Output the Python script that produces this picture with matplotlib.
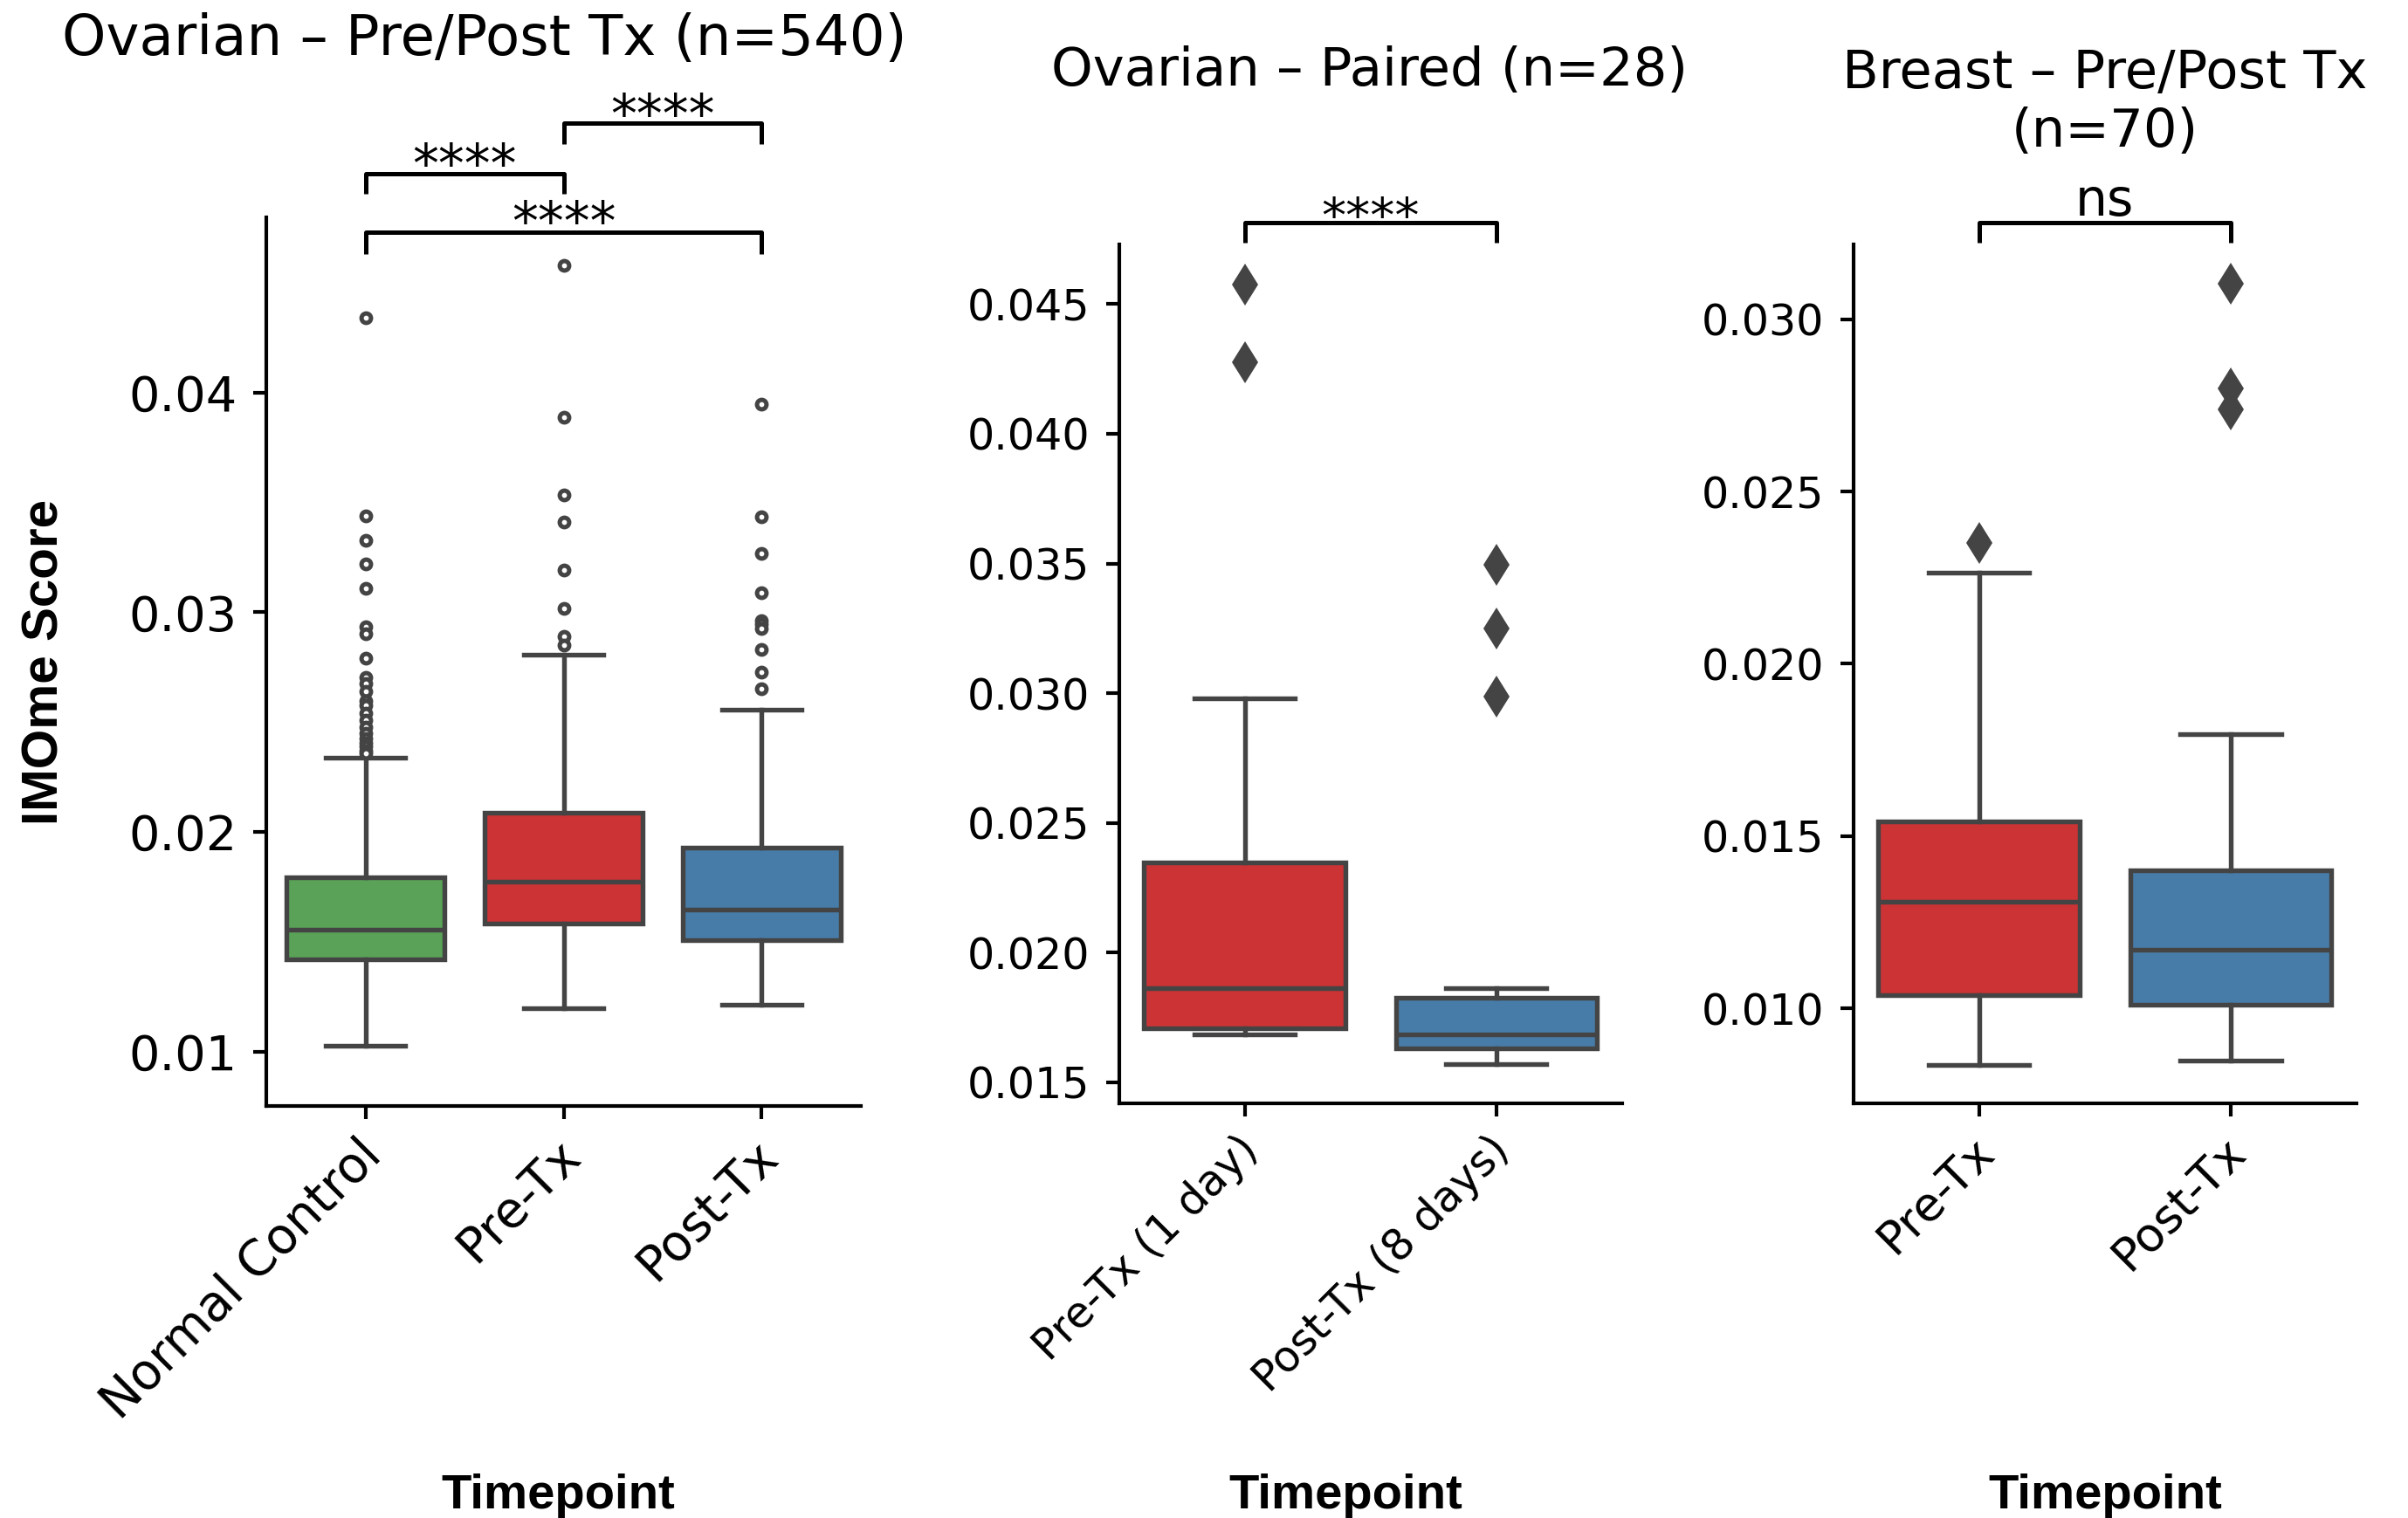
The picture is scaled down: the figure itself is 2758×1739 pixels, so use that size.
import matplotlib
matplotlib.use("Agg")
import matplotlib.pyplot as plt
from matplotlib.textpath import TextPath
from matplotlib.font_manager import FontProperties
from matplotlib.transforms import ScaledTranslation

W, H, DPI = 2758, 1739, 300
fig = plt.figure(figsize=(W / DPI, H / DPI), dpi=DPI)

# ---------------- data ----------------
# Ovarian pre/post treatment cohort
ov_groups = ["Normal Control", "Pre-Tx", "Post-Tx"]
ov_whislo = [0.01027, 0.01197, 0.01213]
ov_q1 = [0.01420, 0.01585, 0.01508]
ov_med = [0.01556, 0.01774, 0.01646]
ov_q3 = [0.01795, 0.02088, 0.01928]
ov_whishi = [0.02340, 0.02806, 0.02556]
ov_fliers_normal = [0.04340, 0.03439, 0.03327, 0.03221, 0.03109, 0.02936, 0.02902,
                    0.02790, 0.02705, 0.02676, 0.02640, 0.02596, 0.02577, 0.02540,
                    0.02511, 0.02479, 0.02450, 0.02426, 0.02404, 0.02390, 0.02372, 0.02359]
ov_fliers_pre = [0.04580, 0.03888, 0.03535, 0.03412, 0.03194, 0.03019, 0.02891, 0.02851]
ov_fliers_post = [0.03947, 0.03434, 0.03266, 0.03090, 0.02960, 0.02945, 0.02926,
                  0.02830, 0.02726, 0.02654]
ov_pairs = [(0, 1), (1, 2), (0, 2)]
ov_labels = ["****", "****", "****"]

# Ovarian paired cohort
pr_groups = ["Pre-Tx (1 day)", "Post-Tx (8 days)"]
pr_whislo = [0.01686, 0.01571]
pr_q1 = [0.01710, 0.01632]
pr_med = [0.01863, 0.01684]
pr_q3 = [0.02349, 0.01825]
pr_whishi = [0.02979, 0.01863]
pr_fliers_pre = [0.04575, 0.04274]
pr_fliers_post = [0.03495, 0.03248, 0.02988]
pr_label = "****"

# Breast pre/post treatment cohort
br_groups = ["Pre-Tx", "Post-Tx"]
br_whislo = [0.00836, 0.00849]
br_q1 = [0.01039, 0.01011]
br_med = [0.01309, 0.01169]
br_q3 = [0.01542, 0.01400]
br_whishi = [0.02264, 0.01795]
br_fliers_pre = [0.02351]
br_fliers_post = [0.03103, 0.02800, 0.02738]
br_label = "ns"

# ---------------- styling ----------------
GREEN, RED, BLUE = "#59A257", "#CB3335", "#477CA8"
LINE = "#444444"


def stats_from(groups, wlo, q1, med, q3, whi, fliers):
    return [dict(label=g, whislo=a, q1=b, med=c, q3=d, whishi=e, fliers=f)
            for g, a, b, c, d, e, f in zip(groups, wlo, q1, med, q3, whi, fliers)]


def draw_boxes(ax, stats, colors, flier_style):
    pos = list(range(len(stats)))
    art = ax.bxp(stats, positions=pos, widths=0.8, capwidths=0.4, patch_artist=True,
                 boxprops=dict(edgecolor=LINE, linewidth=1.3),
                 medianprops=dict(color=LINE, linewidth=1.3),
                 whiskerprops=dict(color=LINE, linewidth=1.3),
                 capprops=dict(color=LINE, linewidth=1.3),
                 flierprops=flier_style, manage_ticks=False)
    for patch, c in zip(art["boxes"], colors):
        patch.set_facecolor(c)
    return pos


def style_axes(ax, labels, ytick_size, xtick_size, ylim, yticks, fmt):
    ax.set_xlim(-0.5, len(labels) - 0.5)
    ax.set_ylim(*ylim)
    ax.set_yticks(yticks, [fmt.format(v) for v in yticks])
    ax.set_xticks(range(len(labels)), labels, rotation=45, ha="right",
                  va="top", rotation_mode="anchor")
    for s in ("top", "right"):
        ax.spines[s].set_visible(False)
    for s in ("left", "bottom"):
        ax.spines[s].set_linewidth(1.0)
    ax.tick_params(axis="both", length=3.5, width=1.0, colors="black")
    ax.tick_params(axis="y", labelsize=ytick_size, pad=4.5)
    ax.tick_params(axis="x", labelsize=xtick_size, pad=3.5)
    # nudge the rotated category labels slightly to the left
    shift = ScaledTranslation(-9 / DPI, 0, fig.dpi_scale_trans)
    for lab in ax.get_xticklabels():
        lab.set_transform(lab.get_transform() + shift)


def glyph_bottom(text, size):
    path = TextPath((0, 0), text, size=size, prop=FontProperties(family="DejaVu Sans"))
    return path.get_extents().y0


def bracket(ax, x1, x2, y_leg, y_top, text, size, gap_px):
    ax.plot([x1, x1, x2, x2], [y_leg, y_top, y_top, y_leg], color="black",
            linewidth=1.2, clip_on=False, solid_capstyle="butt")
    offset = gap_px * 72 / DPI - glyph_bottom(text, size)
    ax.annotate(text, xy=((x1 + x2) / 2, y_top), xytext=(0, offset),
                textcoords="offset points", ha="center", va="baseline",
                fontsize=size, annotation_clip=False)


circle = dict(marker="o", markersize=2.6, markerfacecolor="white",
              markeredgecolor=LINE, markeredgewidth=1.2, linestyle="none")
diamond = dict(marker="d", markersize=8.3, markerfacecolor=LINE,
               markeredgecolor=LINE, markeredgewidth=0, linestyle="none")

# ---------------- panel 1 ----------------
ax1 = fig.add_axes([0.1106, 0.2716, 0.3575 - 0.1106, 0.8570 - 0.2716])
st1 = stats_from(ov_groups, ov_whislo, ov_q1, ov_med, ov_q3, ov_whishi,
                 [ov_fliers_normal, ov_fliers_pre, ov_fliers_post])
draw_boxes(ax1, st1, [GREEN, RED, BLUE], circle)
style_axes(ax1, ov_groups, 13.4, 13.6, (0.00755, 0.04798),
           [0.01, 0.02, 0.03, 0.04], "{:.2f}")
bracket(ax1, 0, 1, 0.04905, 0.04996, ov_labels[0], 14.3, 8)
bracket(ax1, 1, 2, 0.05130, 0.05226, ov_labels[1], 14.3, 7)
bracket(ax1, 0, 2, 0.04631, 0.04728, ov_labels[2], 14.3, 9)

# ---------------- panel 2 ----------------
ax2 = fig.add_axes([0.4647, 0.2733, 0.6736 - 0.4647, 0.8392 - 0.2733])
st2 = stats_from(pr_groups, pr_whislo, pr_q1, pr_med, pr_q3, pr_whishi,
                 [pr_fliers_pre, pr_fliers_post])
draw_boxes(ax2, st2, [RED, BLUE], diamond)
style_axes(ax2, pr_groups, 11.8, 11.8, (0.0142, 0.04731),
           [0.015, 0.020, 0.025, 0.030, 0.035, 0.040, 0.045], "{:.3f}")
bracket(ax2, 0, 1, 0.04736, 0.04814, pr_label, 13.5, 5)

# ---------------- panel 3 ----------------
ax3 = fig.add_axes([0.7696, 0.2733, 0.9787 - 0.7696, 0.8388 - 0.2733])
st3 = stats_from(br_groups, br_whislo, br_q1, br_med, br_q3, br_whishi,
                 [br_fliers_pre, br_fliers_post])
draw_boxes(ax3, st3, [RED, BLUE], diamond)
style_axes(ax3, br_groups, 11.8, 12.9, (0.007245, 0.03217),
           [0.010, 0.015, 0.020, 0.025, 0.030], "{:.3f}")
bracket(ax3, 0, 1, 0.03222, 0.03281, br_label, 14, 7)

# ---------------- titles and axis labels ----------------
fig.text(555 / W, 1 - 63 / H, "Ovarian – Pre/Post Tx (n=540)", ha="center",
         va="baseline", fontsize=15.4)
fig.text(1569 / W, 1 - 98 / H, "Ovarian – Paired (n=28)", ha="center",
         va="baseline", fontsize=14.6)
# multi-line text: the baseline anchor refers to the last line
fig.text(2411 / W, 1 - 168 / H, "Breast – Pre/Post Tx\n(n=70)", ha="center",
         va="baseline", fontsize=14.6, linespacing=1.17)

label_font = dict(family="Liberation Sans", weight="bold")
for xc in (639, 1541, 2411):
    fig.text(xc / W, 1 - 1728 / H, "Timepoint", ha="center", va="baseline",
             fontsize=13.5, **label_font)
fig.text(79 / W, 1 - 758 / H, "IMOme Score", rotation=90, ha="right",
         va="center", fontsize=14, **label_font)

fig.savefig("out.png", dpi=DPI)
